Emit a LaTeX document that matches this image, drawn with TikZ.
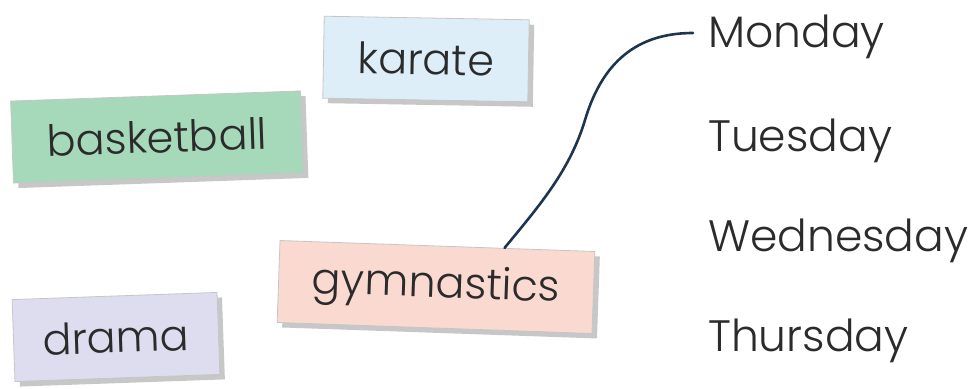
\documentclass[tikz,border=0pt]{standalone}
\usepackage{fontspec}
\setmainfont{Poppins Light}
\usetikzlibrary{shadows,calc}
\definecolor{bbgreen}{HTML}{A6D8BA}
\definecolor{krblue}{HTML}{DDEEF8}
\definecolor{gympink}{HTML}{FADAD0}
\definecolor{drlav}{HTML}{DEDDF0}
\definecolor{txt}{HTML}{2B2B2B}
\definecolor{curvecol}{HTML}{1E3550}
\begin{document}
\begin{tikzpicture}[x=1pt,y=1pt,
  card/.style={draw=gray!45, line width=0.8pt, minimum height=82pt, inner sep=0pt, text=txt,
    font=\fontsize{43}{48}\selectfont,
    drop shadow={shadow xshift=5pt, shadow yshift=-5pt, fill=gray!55, opacity=0.8}},
  day/.style={anchor=base west, inner sep=0pt, text=txt, font=\fontsize{44}{48}\selectfont},
  link/.style={draw=curvecol, line width=2.6pt, line cap=round}]
\useasboundingbox (0,0) rectangle (974,388);
\fill[white] (0,0) rectangle (974,388);
\node[card, fill=bbgreen, minimum width=290pt, rotate=2] (bb) at (157,251) {basketball};
\node[card, fill=krblue, minimum width=205pt, rotate=-1] (kr) at (426,329) {karate};
\node[card, fill=gympink, minimum width=315pt, rotate=-2] (gym) at (436,101) {gymnastics};
\node[card, fill=drlav, minimum width=205pt, rotate=2] (dr) at (116,51) {drama};
\node[day] (mon) at (708,340) {Monday};
\node[day] (tue) at (708,236) {Tuesday};
\node[day] (wed) at (708,136) {Wednesday};
\node[day] (thu) at (708,36) {Thursday};
\draw[link] ($(gym.north)!0.425!(gym.north east)$) .. controls (540,183) and (570,218) .. (585,268)
  .. controls (600,318) and (630,355) .. ([xshift=-15pt,yshift=15pt]mon.base west);
\end{tikzpicture}
\end{document}
